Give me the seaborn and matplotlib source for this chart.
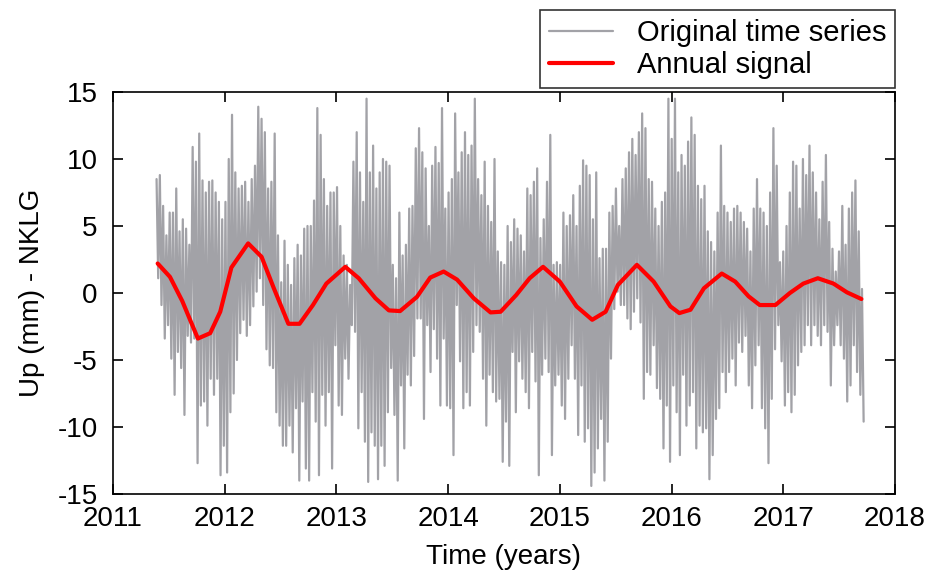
import numpy as np
import pandas as pd
import matplotlib
matplotlib.use("Agg")
import matplotlib.pyplot as plt
import seaborn as sns

# GPS daily Up component, station NKLG: spike tops / bottoms
top_a = [8.5, 8.8, 6.5, 4.3, 6.0, 6.0, 7.8, 4.6, 5.5, 4.8, 3.6, 10.9, 9.8, 11.9, 8.4, 7.5, 8.3,
         8.4, 7.5, 6.8, 5.5, 6.8, 10.0, 13.3, 9.0, 7.8, 8.0, 8.3, 6.8, 8.5, 9.5, 13.9, 13.0, 12.0]
bot_a = [1.1, -0.9, -3.4, -2.4, -4.9, -7.6, -4.4, -5.6, -9.1, -3.2, -3.7, -3.4, -12.7, -8.4,
         -8.1, -9.9, -6.4, -7.6, -6.4, -13.6, -11.4, -13.4, -8.9, -7.5, -5.0, -3.0, -2.0, -3.2,
         -2.4, -1.0, 0.1, 1.1, -0.9, -4.2]
top_b = [7.8, 8.3, 11.9, 4.3, 0.8, 3.9, 2.1, 0.6, 2.6, 3.6, 2.8, 4.8, 5.0, 5.0, 6.9, 13.8, 11.8,
         8.5, 6.5, 7.5, 7.5, 7.9, 5.0, 2.8, 2.1, 0.6, 9.8, 12.0, 9.0, 6.8, 14.5, 9.0, 11.0, 7.8,
         9.0, 10.0]
bot_b = [-5.4, -5.6, -8.9, -9.9, -11.4, -11.4, -9.9, -11.9, -8.6, -14.0, -8.1, -13.1, -14.0,
         -7.4, -9.6, -13.6, -7.6, -9.9, -7.4, -13.1, -3.9, -8.4, -9.1, -4.9, -6.4, -2.4, -2.9,
         -10.1, -7.4, -11.1, -14.1, -10.4, -11.4, -13.9, -11.4, -12.9]
top_c = [9.8, 9.5, 2.1, 1.1, 6.0, 2.8, 3.6, 6.3, 6.5, 10.8, 12.3, 10.5, 9.3, 5.0, 9.5, 10.9, 9.7,
         13.8, 6.3, 7.5, 8.5, 13.4, 9.0, 10.5, 12.0, 10.3, 11.0, 14.5, 8.5, 7.3, 9.8, 6.5, 5.3,
         10.0, 3.1, 2.3]
bot_c = [-8.9, -5.6, -9.1, -14.0, -6.9, -11.6, -6.1, -6.9, -4.7, -1.9, -1.9, -9.4, -2.4, -5.9,
         -2.7, -4.9, -8.4, -3.4, -8.4, -8.6, -12.1, -0.9, -5.1, -8.6, -7.4, -8.4, -4.4, -2.4,
         -2.9, -6.4, -9.9, -6.1, -7.4, -8.1, -7.9, -12.6]
top_d = [2.1, 5.0, 3.8, 5.5, 4.8, 4.3, 3.1, 7.8, 7.3, 8.3, 9.3, 4.1, 5.5, 8.3, 11.8, 2.1, 2.3,
         2.1, 6.0, 5.0, 5.8, 7.3, 5.0, 8.0, 9.9, 9.5, 8.8, 5.5, 9.0, 2.6, 3.3, 3.3, 6.0, 6.5,
         7.8, 5.0]
bot_d = [-9.6, -12.9, -4.4, -8.9, -5.1, -6.4, -7.4, -8.6, -4.4, -6.6, -13.6, -6.1, -4.9, -5.9,
         -12.1, -6.9, -6.1, -8.4, -9.4, -6.4, -3.9, -6.4, -10.6, -6.9, -11.1, -10.1, -14.4,
         -13.4, -11.6, -9.4, -14.0, -11.1, -4.9, -1.2, 0.1, -0.9]
top_e = [8.5, 9.3, 10.5, 11.5, 10.3, 12.0, 13.4, 12.3, 8.5, 8.3, 6.3, 5.0, 6.8, 7.5, 14.5, 11.5,
         14.5, 9.0, 10.3, 9.5, 11.3, 13.1, 11.8, 8.0, 7.0, 8.0, 4.6, 3.8, 3.1, 6.0, 11.0, 6.5,
         6.0, 5.3, 6.3, 6.5]
bot_e = [-0.9, -1.9, -2.7, -1.4, -0.4, -2.2, -7.9, -5.9, -6.1, -3.9, -7.1, -7.9, -11.6, -8.4,
         -12.6, -6.9, -8.9, -12.1, -6.1, -9.9, -8.4, -7.4, -11.6, -9.9, -10.4, -10.1, -13.9,
         -12.1, -9.4, -8.6, -5.9, -7.4, -5.9, -4.9, -6.9, -3.7]
top_f = [6.0, 5.3, 4.8, 3.1, 6.3, 8.5, 6.3, 6.0, 5.0, 7.5, 12.3, 9.5, 2.3, 3.1, 5.0, 7.5, 9.8,
         9.5, 6.3, 10.0, 8.8, 11.0, 9.0, 7.5, 5.5, 8.3, 10.3, 5.3, 3.3, 1.6, 3.1, 6.5, 3.6, 6.3,
         7.5, 8.4, 4.6, 0.3]
bot_f = [-4.4, -3.2, -6.9, -8.6, -5.4, -3.9, -8.6, -10.1, -12.7, -7.9, -4.2, -2.4, -5.1, -8.4,
         -7.4, -8.9, -7.6, -5.4, -4.4, -3.9, -2.4, -3.9, -2.4, -3.2, -3.9, -2.4, -2.9, -6.9,
         -3.9, -2.4, -3.9, -4.9, -8.1, -6.9, -3.9, -5.9, -7.6, -9.6]
series_start, series_end = 2011.39, 2017.72

# annual signal
annual_t = [2011.40, 2011.51, 2011.62, 2011.76, 2011.87, 2011.96, 2012.06, 2012.21, 2012.33,
            2012.44, 2012.57, 2012.67, 2012.79, 2012.91, 2013.08, 2013.20, 2013.35, 2013.47,
            2013.57, 2013.72, 2013.84, 2013.96, 2014.08, 2014.23, 2014.38, 2014.47, 2014.61,
            2014.73, 2014.85, 2015.00, 2015.15, 2015.29, 2015.41, 2015.52, 2015.69, 2015.84,
            2015.99, 2016.07, 2016.17, 2016.29, 2016.45, 2016.57, 2016.69, 2016.79, 2016.93,
            2017.06, 2017.18, 2017.31, 2017.45, 2017.57, 2017.70]
annual_v = [2.2, 1.2, -0.6, -3.4, -3.0, -1.4, 1.9, 3.7, 2.7, 0.35, -2.3, -2.3, -0.9, 0.7, 1.95,
            1.1, -0.4, -1.3, -1.35, -0.3, 1.15, 1.6, 1.0, -0.4, -1.45, -1.4, -0.15, 1.1, 1.95,
            0.85, -1.0, -2.0, -1.4, 0.6, 2.1, 0.85, -1.0, -1.5, -1.25, 0.35, 1.45, 0.85, -0.25,
            -0.9, -0.9, 0.0, 0.7, 1.1, 0.7, 0.05, -0.45]

years = [2011, 2012, 2013, 2014, 2015, 2016, 2017, 2018]
yticks = [-15, -10, -5, 0, 5, 10, 15]

tops = np.array(top_a + top_b + top_c + top_d + top_e + top_f)
bots = np.array(bot_a + bot_b + bot_c + bot_d + bot_e + bot_f)
vals = np.empty(2 * len(tops))
vals[0::2] = tops
vals[1::2] = bots
raw = pd.DataFrame({"t": np.linspace(series_start, series_end, len(vals)), "up": vals})
ann = pd.DataFrame({"t": annual_t, "up": annual_v})

sns.set_style("ticks")
plt.rcParams["font.family"] = ["Liberation Sans", "DejaVu Sans"]
plt.rcParams["axes.unicode_minus"] = False
plt.rcParams["text.color"] = "black"
plt.rcParams["axes.labelcolor"] = "black"

fig = plt.figure(figsize=(9.44, 5.76), dpi=100)
ax = fig.add_axes([0.1197, 0.1424, 0.8283, 0.6979])

sns.lineplot(data=raw, x="t", y="up", sort=False, estimator=None, color="#a2a2a7",
             lw=1.6, ax=ax, label="Original time series")
sns.lineplot(data=ann, x="t", y="up", sort=False, estimator=None, color="#ff0000",
             lw=3.0, ax=ax, label="Annual signal", solid_joinstyle="round")

ax.set_xlim(2011, 2018)
ax.set_ylim(-15, 15)
ax.set_xticks(years)
ax.set_yticks(yticks)
ax.tick_params(direction="in", length=7, width=1.2, top=True, right=True,
               labelsize=20, colors="black")
ax.tick_params(axis="x", pad=9)
ax.tick_params(axis="y", pad=11)
for s in ax.spines.values():
    s.set_visible(True)
    s.set_color("black")
    s.set_linewidth(1.2)
ax.set_xlabel("Time (years)", fontsize=20, labelpad=8)
ax.set_ylabel("Up (mm) - NKLG", fontsize=20, labelpad=9)

leg = ax.legend(loc="lower right", bbox_to_anchor=(1.0, 1.01), borderaxespad=0,
                fancybox=False, frameon=True, fontsize=21, handlelength=2.2,
                handletextpad=0.8, borderpad=0.3, labelspacing=0.15)
leg.get_frame().set_edgecolor("black")
leg.get_frame().set_linewidth(1.2)

fig.savefig("out.png", dpi=100)
